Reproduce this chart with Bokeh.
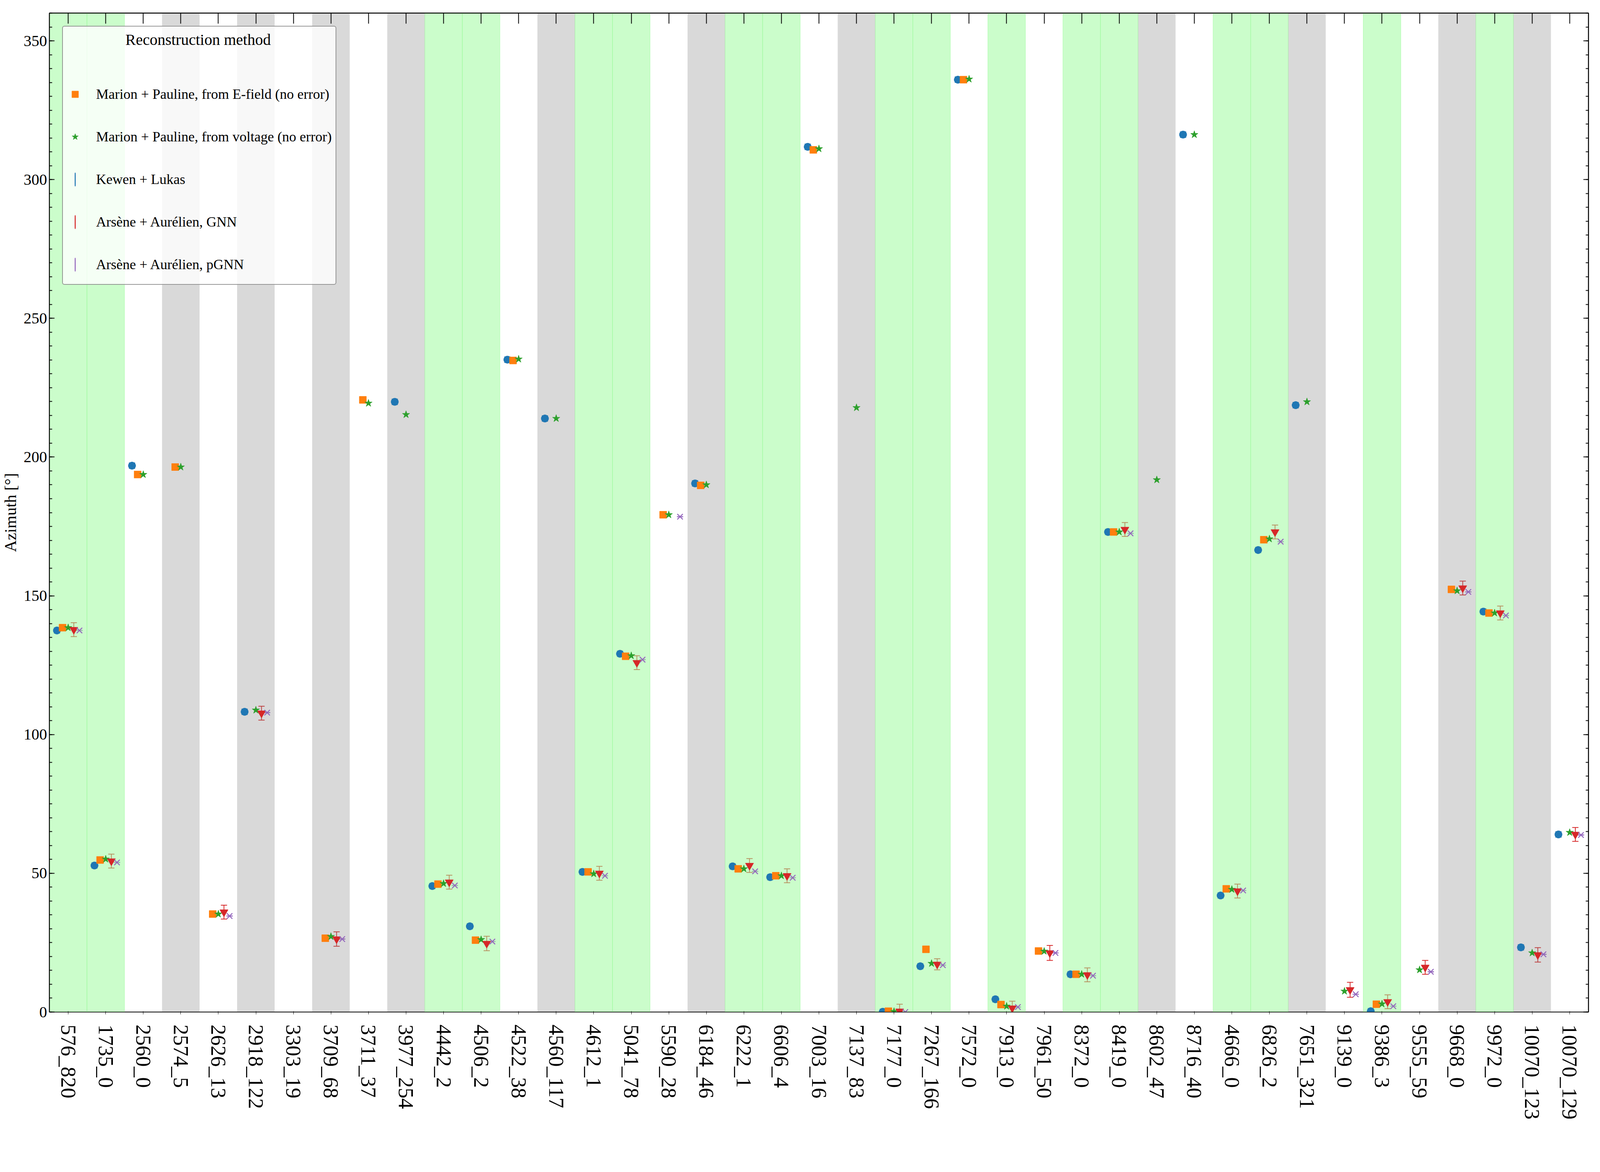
from bokeh.plotting import figure
from bokeh.models import (ColumnDataSource, FactorRange, Range1d, Whisker, TeeHead, Legend,
                          LegendItem, CategoricalAxis, LinearAxis, SingleIntervalTicker,
                          CustomJSTickFormatter)
from bokeh.transform import dodge
from bokeh.embed import file_html
from bokeh.resources import INLINE

# ---------------- data ----------------
events = ["576_820", "1735_0", "2560_0", "2574_5", "2626_13", "2918_122", "3303_19", "3709_68",
          "3711_37", "3977_254", "4442_2", "4506_2", "4522_38", "4560_117", "4612_1", "5041_78",
          "5590_28", "6184_46", "6222_1", "6606_4", "7003_16", "7137_83", "7177_0", "7267_166",
          "7572_0", "7913_0", "7961_50", "8372_0", "8419_0", "8602_47", "8716_40", "4666_0",
          "6826_2", "7651_321", "9139_0", "9386_3", "9555_59", "9668_0", "9972_0", "10070_123",
          "10070_129"]

highlighted = ["576_820", "1735_0", "4442_2", "4506_2", "4612_1", "5041_78", "6222_1", "6606_4",
               "7177_0", "7267_166", "7913_0", "8372_0", "8419_0", "4666_0", "6826_2", "9386_3",
               "9972_0"]

N = None
efield = [138.5, 54.8, 193.7, 196.4, 35.3, N, N, 26.6,
          220.6, N, 46.1, 25.9, 234.8, N, 50.5, 128.2,
          179.2, 189.8, 51.6, 49.1, 310.7, N, 0.3, 22.6,
          336.0, 2.7, 22.0, 13.6, 173.0, N, N, 44.4,
          170.2, N, N, 2.8, N, 152.3, 143.8, N,
          N]
voltage = [138.5, 55.1, 193.7, 196.4, 35.3, 108.8, N, 27.2,
           219.4, 215.3, 46.3, 26.1, 235.3, 213.9, 49.8, 128.4,
           179.2, 190.0, 51.6, 49.1, 311.1, 217.8, 0.2, 17.5,
           336.2, 2.1, 21.9, 13.6, 173.0, 191.8, 316.2, 44.2,
           170.5, 219.9, 7.5, 2.9, 15.2, 151.8, 143.8, 21.3,
           64.7]
kewen = [137.5, 52.8, 196.9, N, N, 108.2, N, N,
         N, 219.9, 45.4, 30.9, 235.1, 213.9, 50.5, 129.1,
         N, 190.5, 52.5, 48.6, 311.8, N, 0.1, 16.5,
         336.0, 4.6, N, 13.6, 173.0, N, 316.2, 42.0,
         166.5, 218.7, N, 0.3, N, N, 144.3, 23.3,
         64.0]
kewen_err = [1.0, 1.0, 1.0, N, N, 1.0, N, N,
             N, 1.0, 1.0, 1.0, 1.0, 1.0, 1.0, 1.0,
             N, 1.0, 1.0, 1.0, 1.0, N, 1.0, 1.0,
             1.0, 1.0, N, 1.0, 1.0, N, 1.0, 1.0,
             1.0, 1.0, N, 1.0, N, N, 1.0, 1.0,
             1.0]
gnn = [137.8, 54.4, N, N, 36.0, 107.7, N, 26.3,
       N, N, 46.8, 24.7, N, N, 50.0, 125.9,
       N, N, 52.8, 49.1, N, N, 0.3, 17.2,
       N, 1.4, 21.3, 13.4, 173.9, N, N, 43.6,
       173.0, N, 8.0, 3.7, 16.1, 152.8, 143.8, 20.6,
       64.0]
gnn_err = [2.5, 2.5, N, N, 2.5, 2.5, N, 2.6,
           N, N, 2.5, 2.6, N, N, 2.5, 2.5,
           N, N, 2.5, 2.5, N, N, 2.5, 2.0,
           N, 2.5, 2.7, 2.5, 2.5, N, N, 2.5,
           2.5, N, 2.7, 2.5, 2.5, 2.5, 2.5, 2.6,
           2.5]
pgnn = [137.5, 53.9, N, N, 34.6, 107.9, N, 26.3,
        N, N, 45.6, 25.4, N, N, 49.1, 127.0,
        178.5, N, 50.7, 48.4, N, N, 0.0, 16.9,
        N, 1.8, 21.3, 13.1, 172.5, N, N, 43.8,
        169.5, N, 6.4, 2.1, 14.5, 151.4, 142.9, 20.8,
        63.8]
pgnn_err = [0.0, 0.0, N, N, 0.0, 0.0, N, 0.0,
            N, N, 0.0, 0.0, N, N, 0.0, 0.0,
            0.0, N, 0.0, 0.0, N, N, 0.0, 0.0,
            N, 0.0, 0.0, 0.0, 0.0, N, N, 0.0,
            0.0, N, 0.0, 0.0, 0.0, 0.0, 0.0, 0.0,
            0.0]

legend_title = "Reconstruction method"
labels = {
    "efield": "Marion + Pauline, from E-field (no error)",
    "voltage": "Marion + Pauline, from voltage (no error)",
    "kewen": "Kewen + Lukas",
    "gnn": "Arsène + Aurélien, GNN",
    "pgnn": "Arsène + Aurélien, pGNN",
}
y_label = "Azimuth [°]"

# ---------------- styling ----------------
FONT = "Liberation Serif"
C_BLUE, C_ORANGE, C_GREEN, C_RED, C_PURPLE = "#1f77b4", "#ff7f0e", "#2ca02c", "#d62728", "#9467bd"


def make_source(vals, errs=None):
    xs, ys, lo, hi = [], [], [], []
    for i, (e, v) in enumerate(zip(events, vals)):
        if v is None:
            continue
        err = errs[i] if errs is not None and errs[i] is not None else 0.0
        xs.append(e)
        ys.append(v)
        lo.append(v - err)
        hi.append(v + err)
    return ColumnDataSource(dict(x=xs, y=ys, lower=lo, upper=hi))


p = figure(width=4080, height=2984,
           x_range=FactorRange(factors=events, range_padding=0),
           y_range=Range1d(0, 360),
           output_backend="svg", toolbar_location=None,
           min_border_left=123, min_border_right=14, min_border_top=33, min_border_bottom=394,
           background_fill_color="white", border_fill_color="white")
p.xgrid.visible = False
p.ygrid.visible = False
p.outline_line_color = "black"
p.outline_line_width = 2

# background bands
green_bands = [e for e in events if e in highlighted]
grey_bands = [e for i, e in enumerate(events) if e not in highlighted and i % 2 == 1]
p.vbar(x=green_bands, width=1.0, bottom=0, top=360, fill_color="#98fb98", fill_alpha=0.5,
       line_color="#98fb98", line_alpha=0.5, line_width=1.5)
p.vbar(x=grey_bands, width=1.0, bottom=0, top=360, fill_color="#808080", fill_alpha=0.3,
       line_color=None)

# series
s_k = make_source(kewen, kewen_err)
s_e = make_source(efield)
s_v = make_source(voltage)
s_g = make_source(gnn, gnn_err)
s_p = make_source(pgnn, pgnn_err)

off = {"kewen": -0.3, "efield": -0.15, "voltage": 0.0, "gnn": 0.15, "pgnn": 0.3}

p.scatter(x=dodge("x", off["kewen"], range=p.x_range), y="y", source=s_k, marker="circle",
          size=19, fill_color=C_BLUE, line_color=C_BLUE)
r_e = p.scatter(x=dodge("x", off["efield"], range=p.x_range), y="y", source=s_e, marker="square",
                size=18, fill_color=C_ORANGE, line_color=C_ORANGE)
r_v = p.scatter(x=dodge("x", off["voltage"], range=p.x_range), y="y", source=s_v, marker="star",
                size=20, fill_color=C_GREEN, line_color=C_GREEN)
p.scatter(x=dodge("x", off["gnn"], range=p.x_range), y="y", source=s_g, marker="inverted_triangle",
          size=21, fill_color=C_RED, line_color=C_RED)
p.scatter(x=dodge("x", off["pgnn"], range=p.x_range), y="y", source=s_p, marker="x",
          size=20, line_color=C_PURPLE, line_width=2.5)

for src, key, col in [(s_k, "kewen", C_BLUE), (s_g, "gnn", C_RED), (s_p, "pgnn", C_PURPLE)]:
    w = Whisker(source=src, base=dodge("x", off[key], range=p.x_range), upper="upper",
                lower="lower", dimension="height", line_color=col, line_width=2,
                upper_head=TeeHead(size=16, line_color=col, line_width=2),
                lower_head=TeeHead(size=16, line_color=col, line_width=2))
    p.add_layout(w)

# legend icons for the error-bar entries: thin vertical ellipse, no visible data point
icon_src = ColumnDataSource(dict(x=[float("nan")], y=[float("nan")]))
icons = {}
for key, col in [("kewen", C_BLUE), ("gnn", C_RED), ("pgnn", C_PURPLE)]:
    icons[key] = p.ellipse(x="x", y="y", width=0.1, height=40, width_units="screen",
                           height_units="screen", source=icon_src, fill_color=col,
                           line_color=col, line_width=2.5)

legend = Legend(items=[
    LegendItem(label=labels["efield"], renderers=[r_e]),
    LegendItem(label=labels["voltage"], renderers=[r_v]),
    LegendItem(label=labels["kewen"], renderers=[icons["kewen"]]),
    LegendItem(label=labels["gnn"], renderers=[icons["gnn"]]),
    LegendItem(label=labels["pgnn"], renderers=[icons["pgnn"]]),
], location="top_left")
# non-breaking spaces centre the title over the entries
legend.title = "\u00a0" * 15 + legend_title
legend.title_text_font = FONT
legend.title_text_font_size = "40px"
legend.title_text_font_style = "normal"
legend.title_text_color = "black"
legend.title_standoff = 76
legend.label_text_font = FONT
legend.label_text_font_size = "36px"
legend.label_text_color = "black"
legend.margin = 33
legend.padding = 10
legend.spacing = 29
legend.glyph_width = 42
legend.glyph_height = 80
legend.label_height = 80
legend.label_standoff = 33
legend.background_fill_color = "white"
legend.background_fill_alpha = 0.8
legend.border_line_color = "#333333"
legend.border_line_width = 2
legend.border_radius = 6
p.add_layout(legend, "center")

# axes
p.yaxis.ticker = SingleIntervalTicker(interval=50, num_minor_ticks=10)
p.yaxis.axis_label = y_label
p.yaxis.axis_label_text_font = FONT
p.yaxis.axis_label_text_font_size = "42px"
p.yaxis.axis_label_text_font_style = "normal"
p.yaxis.axis_label_text_color = "black"
p.yaxis.axis_label_standoff = 8

p.xaxis.major_label_orientation = "vertical"
p.xaxis.major_label_standoff = 26
p.xaxis.major_label_text_font = FONT
p.xaxis.major_label_text_font_size = "54px"
p.xaxis.major_label_text_color = "black"

p.yaxis.major_label_text_font = FONT
p.yaxis.major_label_text_font_size = "40px"
p.yaxis.major_label_text_color = "black"
p.yaxis.major_label_standoff = 6

right = LinearAxis(ticker=SingleIntervalTicker(interval=50, num_minor_ticks=10),
                   formatter=CustomJSTickFormatter(code="return ''"))
top = CategoricalAxis(formatter=CustomJSTickFormatter(code="return ''"))
p.add_layout(right, "right")
p.add_layout(top, "above")

for ax in (p.yaxis[0], right):
    ax.major_tick_in = 13
    ax.major_tick_out = 0
    ax.minor_tick_in = 7
    ax.minor_tick_out = 0
for ax in (p.xaxis[0], top):
    ax.major_tick_in = 27
    ax.major_tick_out = 0
for ax in (p.xaxis[0], p.yaxis[0], right, top):
    ax.axis_line_width = 2
    ax.axis_line_color = "black"
    ax.major_tick_line_width = 2
    ax.major_tick_line_color = "black"
    ax.minor_tick_line_width = 2
    ax.minor_tick_line_color = "black"

open("out.html", "w").write(file_html(p, INLINE))
